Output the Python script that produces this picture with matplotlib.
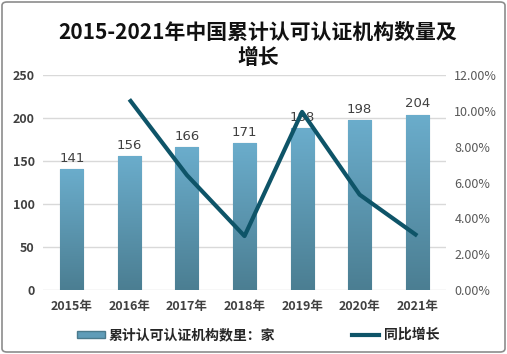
import matplotlib.pyplot as plt
import numpy as np
from matplotlib.patches import FancyBboxPatch, Patch
from matplotlib.lines import Line2D
from matplotlib.colors import LinearSegmentedColormap

plt.rcParams['font.family'] = ['Noto Sans CJK SC', 'DejaVu Sans']

# data
years = ['2015年', '2016年', '2017年', '2018年', '2019年', '2020年', '2021年']
counts = [141, 156, 166, 171, 188, 198, 204]
growth = [None, 0.1064, 0.0641, 0.0301, 0.0994, 0.0532, 0.0303]

fig = plt.figure(figsize=(5.07, 3.54), dpi=100)
ax = fig.add_axes([43/507, 1-290/354, 403/507, 215/354])
x = np.arange(len(years))

# bars with vertical gradient
bars = ax.bar(x, counts, width=0.4, color='#5f9cb8', edgecolor='#4a7a8c',
              linewidth=0.8, zorder=2)
cmap = LinearSegmentedColormap.from_list('g', ['#4b7e92', '#6badcc'])
grad = np.linspace(0, 1, 256).reshape(-1, 1)
for b in bars:
    bx, by = b.get_x(), b.get_y()
    w, h = b.get_width(), b.get_height()
    im = ax.imshow(grad, cmap=cmap, origin='lower', aspect='auto',
                   extent=[bx, bx + w, by, by + h], zorder=2.1)
    im.set_clip_path(b)
for b, v in zip(bars, counts):
    ax.annotate(str(v), (b.get_x() + b.get_width()/2, v), xytext=(0, 3),
                textcoords='offset points', ha='center', va='bottom',
                fontsize=9.5, color='#404040', family='DejaVu Sans', zorder=5)

ax.set_xlim(-0.5, len(years) - 0.5)
ax.set_ylim(0, 250)
ax.set_yticks(range(0, 251, 50))
ax.grid(axis='y', color='#d9d9d9', linewidth=1, zorder=0)
ax.set_axisbelow(True)
for s in ax.spines.values():
    s.set_visible(False)
ax.set_xticks(x)
ax.set_xticklabels(years, fontsize=9, fontweight='bold', color='#404040')
ax.tick_params(axis='x', length=0, pad=7)
ax.tick_params(axis='y', length=0, pad=6, labelsize=9, labelcolor='#404040')
for t in ax.get_yticklabels():
    t.set_fontweight('bold')

# growth line on right axis
ax2 = ax.twinx()
gx = [i for i, g in enumerate(growth) if g is not None]
gy = [g for g in growth if g is not None]
ax2.plot(gx, gy, color='#0e5468', linewidth=3, solid_capstyle='butt', zorder=4)
ax2.set_ylim(0, 0.12)
ax2.set_yticks(np.arange(0, 0.121, 0.02))
ax2.set_yticklabels(['%.2f%%' % (v*100) for v in np.arange(0, 0.121, 0.02)])
ax2.tick_params(axis='y', length=0, pad=6, labelsize=9, labelcolor='#595959')
for s in ax2.spines.values():
    s.set_visible(False)

fig.text(258/507, 1-45/354, '2015-2021年中国累计认可认证机构数量及\n增长',
         ha='center', va='center', fontsize=15, fontweight='bold',
         linespacing=1.25, color='#111111')

handles = [Patch(facecolor='#5f9cb8', edgecolor='#4a7a8c'),
           Line2D([], [], color='#0e5468', linewidth=3)]
leg = fig.legend(handles, ['累计认可认证机构数里：家', '同比增长'], ncol=2,
                 loc='center', bbox_to_anchor=(258/507, 1-335/354), frameon=False,
                 prop={'size': 10, 'weight': 'bold'}, handlelength=2.0,
                 handleheight=0.4, handletextpad=0.3, columnspacing=5.5)
for t in leg.get_texts():
    t.set_color('#262626')

fig.patches.append(FancyBboxPatch((2/507, 2/354), 503/507, 350/354,
                                  boxstyle='round,pad=0,rounding_size=0.01',
                                  transform=fig.transFigure, fill=False,
                                  edgecolor='#8c8c8c', linewidth=1.2))

fig.savefig('out.png', dpi=100)
